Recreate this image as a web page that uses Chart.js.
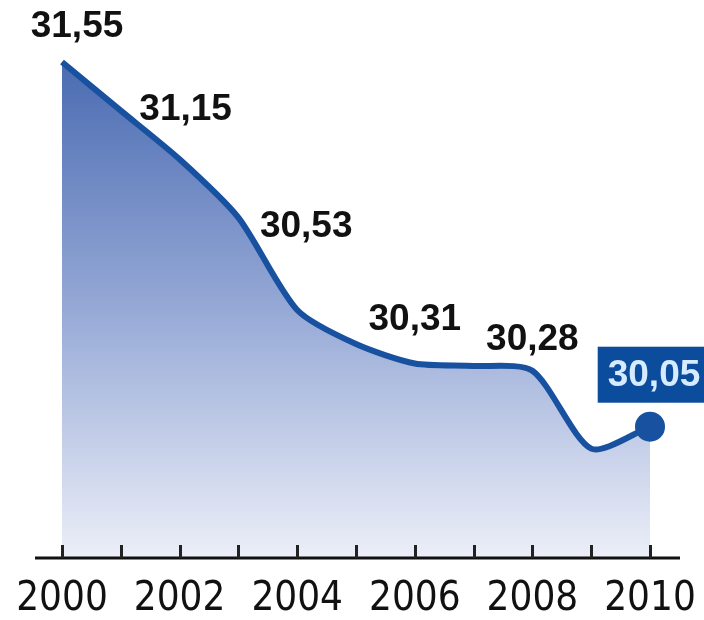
<!DOCTYPE html>
<html>
<head>
<meta charset="utf-8">
<script src="https://cdn.jsdelivr.net/npm/chart.js@4.4.1/dist/chart.umd.min.js"></script>
<style>
  html, body { margin: 0; padding: 0; background: #ffffff; }
  #wrap { width: 704px; height: 620px; }
</style>
</head>
<body>
<div id="wrap"><canvas id="c" width="704" height="620"></canvas></div>
<script>
// ---- data ----
const years = [2000, 2001, 2002, 2003, 2004, 2005, 2006, 2007, 2008, 2009, 2010];
const values = [31.55, 31.35, 31.15, 30.91, 30.53, 30.39, 30.31, 30.30, 30.28, 29.96, 30.05];
const valueLabels = ['31,55', null, '31,15', null, '30,53', null, '30,31', null, '30,28', null, '30,05'];
const tickLabels = ['2000', '2002', '2004', '2006', '2008', '2010'];

const LINE = '#17519f';

// label placement (style), keyed by index
const labelOffsets = {0: [15, -35], 2: [6, -49], 4: [9, -83], 6: [0, -44], 8: [0, -31], 10: [4, -52]};

const decorPlugin = {
  id: 'decor',
  afterDatasetsDraw(chart) {
    const ctx = chart.ctx;
    const xs = chart.scales.x;
    const area = chart.chartArea;
    const axisY = area.bottom;
    ctx.save();
    // axis line
    ctx.strokeStyle = '#111';
    ctx.lineWidth = 3;
    ctx.beginPath();
    ctx.moveTo(35, axisY);
    ctx.lineTo(680, axisY);
    ctx.stroke();
    // inward tick marks
    ctx.strokeStyle = '#222';
    ctx.lineWidth = 3;
    years.forEach(y => {
      const px = Math.round(xs.getPixelForValue(y)) + 0.5;
      ctx.beginPath();
      ctx.moveTo(px, axisY - 13);
      ctx.lineTo(px, axisY);
      ctx.stroke();
    });
    // value labels
    const meta = chart.getDatasetMeta(0);
    ctx.textAlign = 'center';
    ctx.textBaseline = 'middle';
    valueLabels.forEach((txt, i) => {
      if (!txt) return;
      const pt = meta.data[i];
      const off = labelOffsets[i] || [0, -40];
      const cx = pt.x + off[0];
      const cy = pt.y + off[1];
      ctx.font = 'bold 37px "Liberation Sans", Arial, sans-serif';
      if (i === values.length - 1) {
        const w = ctx.measureText(txt).width;
        ctx.fillStyle = '#0b4c9c';
        ctx.fillRect(cx - w / 2 - 10, cy - 28, w + 20, 56);
        ctx.fillStyle = '#d6ebff';
        ctx.fillText(txt, cx, cy + 1);
      } else {
        ctx.lineJoin = 'round';
        ctx.strokeStyle = 'rgba(255,255,255,0.9)';
        ctx.lineWidth = 6;
        ctx.strokeText(txt, cx, cy);
        ctx.fillStyle = '#111';
        ctx.fillText(txt, cx, cy);
      }
    });
    ctx.restore();
  }
};

const ctx = document.getElementById('c').getContext('2d');
new Chart(ctx, {
  type: 'line',
  data: {
    datasets: [{
      data: years.map((y, i) => ({x: y, y: values[i]})),
      borderColor: LINE,
      borderWidth: 6,
      tension: 0.25,
      clip: false,
      fill: 'start',
      backgroundColor(context) {
        const ch = context.chart;
        const a = ch.chartArea;
        if (!a) return 'rgba(80,110,180,0.6)';
        const g = ch.ctx.createLinearGradient(0, a.top + 60, 0, a.bottom);
        g.addColorStop(0, '#4a6bb2');
        g.addColorStop(0.5, '#96a9d6');
        g.addColorStop(1, '#eceff8');
        return g;
      },
      pointRadius: years.map((y, i) => i === years.length - 1 ? 15 : 0),
      pointBackgroundColor: LINE,
      pointBorderColor: LINE,
      pointBorderWidth: 0,
      pointHoverRadius: 0
    }]
  },
  options: {
    responsive: false,
    animation: false,
    devicePixelRatio: 1,
    layout: { autoPadding: false, padding: { left: 62, right: 54, top: 0, bottom: 0 } },
    plugins: { legend: { display: false }, tooltip: { enabled: false } },
    scales: {
      x: {
        type: 'linear',
        min: 2000,
        max: 2010,
        offset: false,
        grid: { display: false, drawTicks: false },
        border: { display: false },
        afterFit(scale) { scale.paddingLeft = 0; scale.paddingRight = 0; scale.height = 62; },
        ticks: {
          stepSize: 1,
          autoSkip: false,
          maxRotation: 0,
          padding: 22,
          color: '#111',
          font: { family: '"Liberation Sans Narrow", "DejaVu Sans Condensed", sans-serif', size: 40, lineHeight: 1 },
          callback: v => tickLabels.includes(String(v)) ? String(v) : ''
        }
      },
      y: {
        display: false,
        min: 29.51,
        max: 31.805
      }
    }
  },
  plugins: [decorPlugin]
});
</script>
</body>
</html>
